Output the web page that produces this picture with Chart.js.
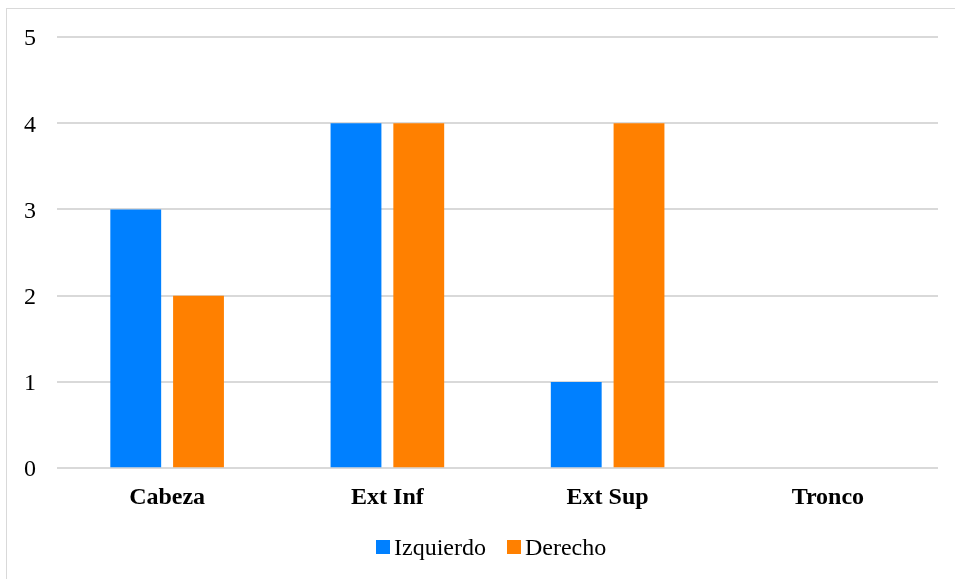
<!DOCTYPE html>
<html>
<head>
<meta charset="utf-8">
<script src="https://cdn.jsdelivr.net/npm/chart.js@4/dist/chart.umd.min.js"></script>
<style>
    body { margin: 0; background: #fff; overflow: hidden; }
    #frame {
        position: absolute;
        left: 6px;
        top: 8px;
        width: 1000px;
        height: 700px;
        border: 1px solid #d9d9d9;
    }
    #chart { position: absolute; left: 0; top: 0; }
    #legend {
        position: absolute;
        left: 369px;
        top: 524px;
        height: 28px;
        display: flex;
        align-items: center;
        gap: 21px;
        font: 24px 'Liberation Serif', 'Times New Roman', serif;
        color: #000;
    }
    .item { display: flex; align-items: center; gap: 4px; }
    .box { width: 14px; height: 14px; }
</style>
</head>
<body>
<div id="frame">
    <canvas id="chart" width="948" height="570"></canvas>
    <div id="legend"></div>
</div>
<script>
// chart data
const categories = ["Cabeza", "Ext Inf", "Ext Sup", "Tronco"];
const izquierdo = [3, 4, 1, 0];
const derecho = [2, 4, 4, 0];
const yTicks = [0, 1, 2, 3, 4, 5];

const serif = "'Liberation Serif', 'Times New Roman', serif";

const chart = new Chart(document.getElementById("chart"), {
    type: "bar",
    data: {
        labels: categories,
        datasets: [
            { label: "Izquierdo", data: izquierdo, backgroundColor: "#0080ff" },
            { label: "Derecho", data: derecho, backgroundColor: "#ff8000" }
        ]
    },
    options: {
        responsive: false,
        animation: false,
        categoryPercentage: 0.57,
        barPercentage: 0.81,
        layout: { padding: { left: 17, right: 17, top: 28, bottom: 60 } },
        plugins: {
            tooltip: { enabled: false },
            legend: { display: false }
        },
        scales: {
            x: {
                grid: { display: false },
                border: { display: false },
                ticks: {
                    color: "#000",
                    padding: 7,
                    font: { family: serif, size: 24, weight: "bold" }
                }
            },
            y: {
                min: 0,
                max: 5,
                afterBuildTicks: (scale) => { scale.ticks = yTicks.map(v => ({ value: v })); },
                afterFit: (scale) => { scale.width = 33; },
                grid: { color: "#d9d9d9", lineWidth: 2, drawTicks: false },
                border: { display: false },
                ticks: {
                    color: "#000",
                    padding: 0,
                    crossAlign: "far",
                    labelOffset: 2,
                    font: { family: serif, size: 24 }
                }
            }
        }
    }
});

// legend built from the chart's datasets
const legend = document.getElementById("legend");
chart.data.datasets.forEach(ds => {
    legend.innerHTML += `
        <div class="item">
            <span class="box" style="background:${ds.backgroundColor}"></span>
            <span>${ds.label}</span>
        </div>`;
});
</script>
</body>
</html>
